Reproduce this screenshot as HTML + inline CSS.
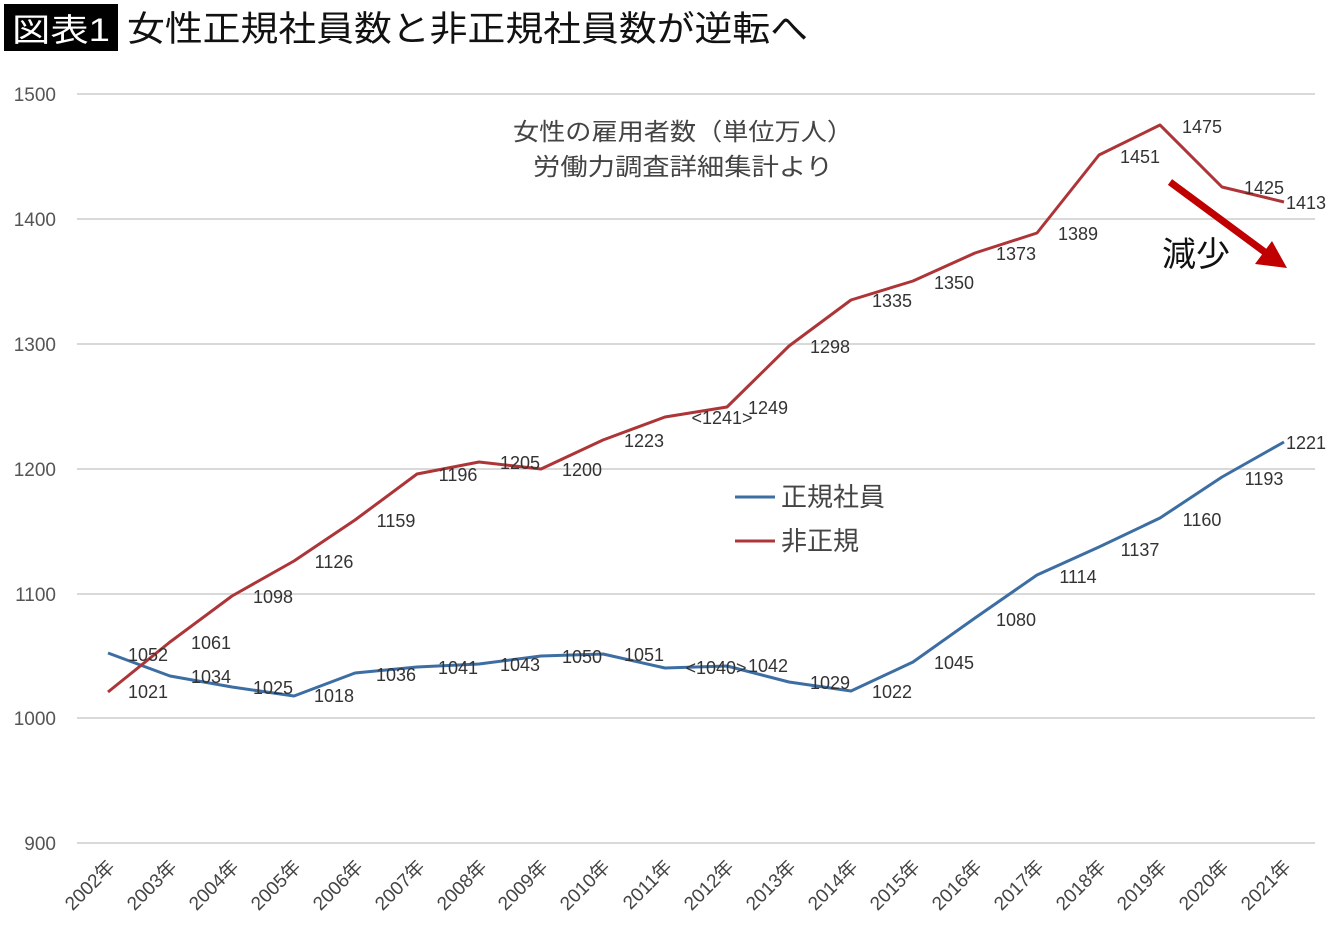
<!DOCTYPE html>
<html><head><meta charset="utf-8"><style>
html,body{margin:0;padding:0;background:#fff;width:1340px;height:936px;overflow:hidden}
svg{display:block}
text{font-family:"Liberation Sans","Noto Sans CJK JP",sans-serif}
.d{font-family:"DejaVu Sans","Noto Sans CJK JP",sans-serif}
</style></head><body>
<svg width="1340" height="936" viewBox="0 0 1340 936" xmlns="http://www.w3.org/2000/svg">
<rect x="4" y="4" width="114" height="47" fill="#000"/>
<text x="12" y="41" font-size="32" fill="#fff" textLength="98" lengthAdjust="spacingAndGlyphs">図表1</text>
<text x="127" y="41" font-size="35" fill="#111" textLength="681" lengthAdjust="spacingAndGlyphs">女性正規社員数と非正規社員数が逆転へ</text>
<g stroke="#d9d9d9" stroke-width="2">
<line x1="77" x2="1315" y1="94" y2="94"/><line x1="77" x2="1315" y1="219" y2="219"/>
<line x1="77" x2="1315" y1="344" y2="344"/><line x1="77" x2="1315" y1="469" y2="469"/>
<line x1="77" x2="1315" y1="594" y2="594"/><line x1="77" x2="1315" y1="718" y2="718"/>
<line x1="77" x2="1315" y1="843" y2="843"/>
</g>
<g font-size="19" fill="#555" text-anchor="end" class="d">
<text x="56" y="101">1500</text><text x="56" y="226">1400</text><text x="56" y="351">1300</text>
<text x="56" y="476">1200</text><text x="56" y="601">1100</text><text x="56" y="725">1000</text>
<text x="56" y="850">900</text>
</g>
<g font-size="19" fill="#444" text-anchor="end" class="d">
<text transform="translate(116,868) rotate(-45)">2002年</text>
<text transform="translate(178,868) rotate(-45)">2003年</text>
<text transform="translate(240,868) rotate(-45)">2004年</text>
<text transform="translate(302,868) rotate(-45)">2005年</text>
<text transform="translate(364,868) rotate(-45)">2006年</text>
<text transform="translate(426,868) rotate(-45)">2007年</text>
<text transform="translate(488,868) rotate(-45)">2008年</text>
<text transform="translate(549,868) rotate(-45)">2009年</text>
<text transform="translate(611,868) rotate(-45)">2010年</text>
<text transform="translate(673,868) rotate(-45)">2011年</text>
<text transform="translate(735,868) rotate(-45)">2012年</text>
<text transform="translate(797,868) rotate(-45)">2013年</text>
<text transform="translate(859,868) rotate(-45)">2014年</text>
<text transform="translate(921,868) rotate(-45)">2015年</text>
<text transform="translate(983,868) rotate(-45)">2016年</text>
<text transform="translate(1045,868) rotate(-45)">2017年</text>
<text transform="translate(1107,868) rotate(-45)">2018年</text>
<text transform="translate(1168,868) rotate(-45)">2019年</text>
<text transform="translate(1230,868) rotate(-45)">2020年</text>
<text transform="translate(1292,868) rotate(-45)">2021年</text>
</g>
<polyline fill="none" stroke="#3d6ea3" stroke-width="3" stroke-linejoin="round" points="108,653 170,676 232,687 294,696 355,673 417,667 479,664 541,656 603,654 665,668 727,666 789,682 851,691 913,662 975,618 1037,575 1099,547 1160,518 1222,477 1284,442"/>
<polyline fill="none" stroke="#ad3537" stroke-width="3" stroke-linejoin="round" points="108,692 170,642 232,596 294,561 355,520 417,474 479,462 541,469 603,440 665,417 727,407 789,346 851,300 913,281 975,253 1037,233 1099,155 1160,125 1222,187 1284,202"/>
<g font-size="18" fill="#333" text-anchor="middle" class="d">
<text x="148" y="661">1052</text><text x="211" y="683">1034</text><text x="273" y="694">1025</text>
<text x="334" y="702">1018</text><text x="396" y="681">1036</text><text x="458" y="674">1041</text>
<text x="520" y="671">1043</text><text x="582" y="663">1050</text><text x="644" y="661">1051</text>
<text x="716" y="674">&lt;1040&gt;</text><text x="768" y="672">1042</text><text x="830" y="689">1029</text>
<text x="892" y="698">1022</text><text x="954" y="669">1045</text><text x="1016" y="626">1080</text>
<text x="1078" y="583">1114</text><text x="1140" y="556">1137</text><text x="1202" y="526">1160</text>
<text x="1264" y="485">1193</text><text x="1306" y="449">1221</text>
<text x="148" y="698">1021</text><text x="211" y="649">1061</text><text x="273" y="603">1098</text>
<text x="334" y="568">1126</text><text x="396" y="527">1159</text><text x="458" y="481">1196</text>
<text x="520" y="469">1205</text><text x="582" y="476">1200</text><text x="644" y="447">1223</text>
<text x="722" y="424">&lt;1241&gt;</text><text x="768" y="414">1249</text><text x="830" y="353">1298</text>
<text x="892" y="307">1335</text><text x="954" y="289">1350</text><text x="1016" y="260">1373</text>
<text x="1078" y="240">1389</text><text x="1140" y="163">1451</text><text x="1202" y="133">1475</text>
<text x="1264" y="194">1425</text><text x="1306" y="209">1413</text>
</g>
<line x1="735" x2="775" y1="497" y2="497" stroke="#3d6ea3" stroke-width="3"/>
<line x1="735" x2="775" y1="541" y2="541" stroke="#ad3537" stroke-width="3"/>
<text x="781" y="506" font-size="26" fill="#444">正規社員</text>
<text x="781" y="550" font-size="26" fill="#444">非正規</text>
<text x="513" y="140" font-size="24" fill="#444" textLength="340" lengthAdjust="spacingAndGlyphs">女性の雇用者数（単位万人）</text>
<text x="533" y="175" font-size="24" fill="#444" textLength="300" lengthAdjust="spacingAndGlyphs">労働力調査詳細集計より</text>
<line x1="1170" y1="182" x2="1266" y2="253" stroke="#c00000" stroke-width="7"/>
<polygon points="1287,268 1255,264 1272,241" fill="#c00000"/>
<text x="1162" y="266" font-size="34" fill="#111">減少</text>
</svg>
</body></html>
